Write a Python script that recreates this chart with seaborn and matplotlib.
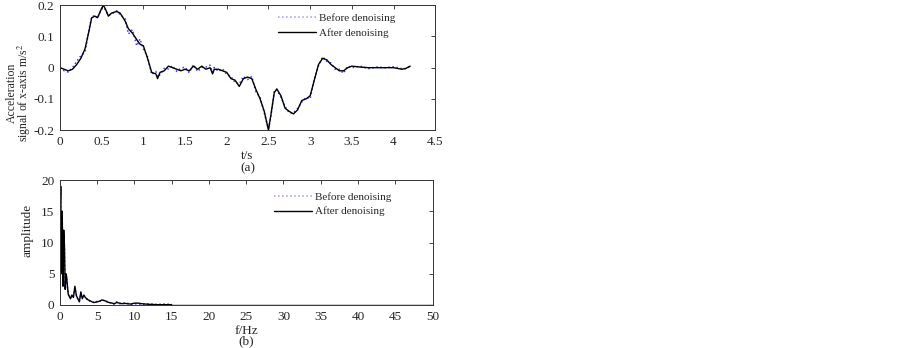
import numpy as np
import pandas as pd
import seaborn as sns
from matplotlib import pyplot as plt

# (a) time-domain acceleration signal
t = [0, 0.05, 0.1, 0.15, 0.2, 0.25, 0.3, 0.35, 0.38, 0.42, 0.45, 0.5, 0.52, 0.55,
     0.58, 0.62, 0.68, 0.72, 0.78, 0.82, 0.87, 0.92, 0.96, 1.0, 1.05, 1.1, 1.15,
     1.17, 1.2, 1.25, 1.3, 1.35, 1.4, 1.45, 1.5, 1.55, 1.6, 1.65, 1.7, 1.75, 1.8,
     1.83, 1.85, 1.9, 1.95, 2.0, 2.05, 2.1, 2.15, 2.2, 2.25, 2.3, 2.35, 2.4, 2.45,
     2.5, 2.53, 2.57, 2.6, 2.65, 2.7, 2.75, 2.8, 2.85, 2.9, 2.95, 3.0, 3.05, 3.1,
     3.15, 3.2, 3.25, 3.3, 3.35, 3.4, 3.45, 3.5, 3.6, 3.7, 3.8, 3.9, 4.0, 4.1,
     4.15, 4.2]
acc_after = [0, -0.005, -0.01, -0.005, 0.01, 0.03, 0.06, 0.12, 0.16, 0.165, 0.16,
             0.19, 0.2, 0.185, 0.165, 0.175, 0.18, 0.175, 0.15, 0.125, 0.11, 0.09,
             0.075, 0.07, 0.03, -0.015, -0.02, -0.035, -0.015, -0.01, 0.005, 0,
             -0.005, -0.01, -0.005, -0.01, 0.005, -0.005, 0.005, -0.005, 0, -0.02,
             -0.005, -0.005, -0.01, -0.015, -0.035, -0.04, -0.06, -0.035, -0.03,
             -0.035, -0.07, -0.1, -0.14, -0.2, -0.15, -0.08, -0.068, -0.09, -0.13,
             -0.14, -0.148, -0.135, -0.105, -0.1, -0.09, -0.04, 0.01, 0.03, 0.025,
             0.01, 0, -0.01, -0.01, 0, 0.005, 0.002, 0, 0, 0, 0, -0.005, -0.002, 0.005]
acc_before = [0, -0.01, -0.014, 0.0, 0.02, 0.038, 0.05, 0.125, 0.162, 0.168,
              0.158, 0.19, 0.2, 0.18, 0.168, 0.172, 0.182, 0.17, 0.158, 0.108, 0.122,
              0.07, 0.092, 0.06, 0.035, -0.022, -0.012, -0.03, -0.022, -0.002, -0.004,
              0.006, -0.012, -0.002, 0.002, -0.016, 0.01, -0.012, 0.001, 0.002, 0.008,
              -0.014, 0.001, -0.012, -0.004, -0.022, -0.028, -0.048, -0.052, -0.028,
              -0.038, -0.028, -0.078, -0.095, -0.145, -0.195, -0.155, -0.075, -0.07,
              -0.095, -0.125, -0.145, -0.145, -0.13, -0.11, -0.095, -0.1, -0.035,
              0.005, 0.035, 0.02, 0.015, -0.005, -0.005, -0.018, 0.005, 0.0, 0.005,
              -0.003, 0.002, 0.0, 0.003, -0.003, -0.004, 0.005]

# (b) amplitude spectrum
f = [0, 0.1, 0.2, 0.3, 0.4, 0.5, 0.6, 0.7, 0.8, 0.9, 1.0, 1.1, 1.2, 1.4, 1.6, 1.8,
     2.0, 2.2, 2.4, 2.6, 2.8, 3.0, 3.2, 3.4, 3.6, 3.8, 4.0, 4.3, 4.6, 5.0, 5.3, 5.6,
     6.0, 6.3, 6.6, 7.0, 7.3, 7.6, 8.0, 8.3, 8.6, 9.0, 9.5, 10.0, 10.5, 11.0, 12.0,
     13.0, 14.0, 15.0]
amp_after = [14, 19, 5, 15, 3, 12, 9.5, 2.5, 5, 4.5, 3, 1.8, 1.5, 1.0, 1.6, 1.2,
             3.0, 1.5, 1.0, 0.5, 2.1, 1.0, 1.6, 1.2, 1.0, 0.8, 0.7, 0.5, 0.4, 0.5,
             0.6, 0.8, 0.7, 0.5, 0.4, 0.3, 0.2, 0.4, 0.3, 0.2, 0.3, 0.2, 0.15, 0.3,
             0.3, 0.2, 0.1, 0.05, 0.05, 0.05]
amp_before = [14, 18.5, 5.5, 14.5, 3.5, 11.5, 9, 3, 4.8, 4.2, 2.8, 2.0, 1.3, 1.1,
              1.4, 1.3, 2.8, 1.6, 0.9, 0.6, 1.9, 1.1, 1.5, 1.3, 0.9, 0.9, 0.6, 0.6,
              0.3, 0.6, 0.5, 0.9, 0.6, 0.6, 0.3, 0.4, 0.1, 0.5, 0.2, 0.3, 0.2, 0.3,
              0.1, 0.2, 0.15, 0.1, 0.2, 0.1, 0.15, 0.1]
f_tail = [15.0, 50.0]
amp_tail = [0.05, 0.05]

sns.set_style("white")
plt.rcParams['font.family'] = ['Liberation Serif', 'DejaVu Serif']
plt.rcParams['mathtext.fontset'] = 'stix'

fig = plt.figure(figsize=(9.02, 3.48), dpi=100)
ax1 = fig.add_axes([0.0665, 0.626, 0.416, 0.359])
ax2 = fig.add_axes([0.0665, 0.1236, 0.413, 0.359])

df_a = pd.DataFrame({'t': t, 'before': acc_before, 'after': acc_after})
df_b = pd.DataFrame({'f': f, 'before': amp_before, 'after': amp_after})

blue = '#3d3dff'
sns.lineplot(x='t', y='before', data=df_a, ax=ax1, color=blue, linestyle=':',
             linewidth=1.1, label='Before denoising')
sns.lineplot(x='t', y='after', data=df_a, ax=ax1, color='black', linewidth=1.0,
             label='After denoising')

sns.lineplot(x='f', y='before', data=df_b, ax=ax2, color=blue, linestyle=':',
             linewidth=1.1, label='Before denoising')
sns.lineplot(x='f', y='after', data=df_b, ax=ax2, color='black', linewidth=1.0,
             label='After denoising')
ax2.plot(f_tail, amp_tail, color='black', linewidth=1.0)

ax1.set_xlim(0, 4.5)
ax1.set_ylim(-0.2, 0.2)
ax1.set_xticks(np.arange(0, 4.51, 0.5))
ax1.set_xticklabels(['0', '0.5', '1', '1.5', '2', '2.5', '3', '3.5', '4', '4.5'])
ax1.set_yticks([-0.2, -0.1, 0, 0.1, 0.2])
ax1.set_yticklabels(['-0.2', '-0.1', '0', '0.1', '0.2'])
ax1.set_xlabel('t/s\n(a)', fontsize=9.5, linespacing=0.95, labelpad=2)
ax1.set_ylabel('Acceleration\nsignal of x-axis m/s$^2$', fontsize=8.5,
               linespacing=0.85)
ax1.yaxis.set_label_coords(-0.072, 0.3)

ax2.set_xlim(0, 50)
ax2.set_ylim(0, 20)
ax2.set_xticks(np.arange(0, 51, 5))
ax2.set_yticks([0, 5, 10, 15, 20])
ax2.set_xlabel('f/Hz\n(b)', fontsize=9.5, linespacing=0.8, labelpad=2)
ax2.set_ylabel('amplitude', fontsize=9.5)
ax2.yaxis.set_label_coords(-0.072, 0.6)

for ax, anchor in ((ax1, (0.581, 0.935)), (ax2, (0.574, 0.905))):
    ax.tick_params(direction='in', top=True, right=True, labelsize=9.5,
                   length=3, width=0.6, pad=4)
    for s in ax.spines.values():
        s.set_linewidth(0.7)
        s.set_color('#333333')
    leg = ax.legend(loc='upper left', bbox_to_anchor=anchor, frameon=False,
                    fontsize=8, handlelength=3.4, handletextpad=0.3,
                    borderpad=0, borderaxespad=0, labelspacing=0.45)
    leg.get_lines()[0].set_color('#9a9aff')

plt.savefig('out.png', dpi=100)
